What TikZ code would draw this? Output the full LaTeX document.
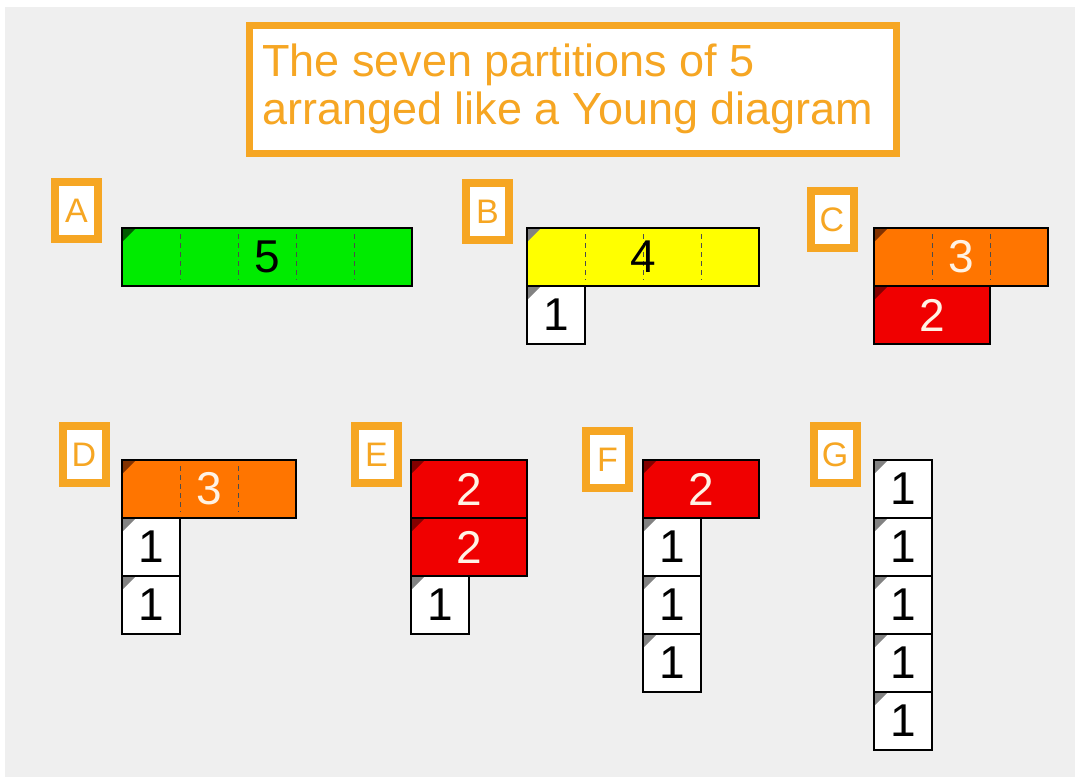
\documentclass[tikz,border=0pt]{standalone}
\usepackage{fontspec}
\setmainfont{Liberation Sans}
\definecolor{boxorange}{RGB}{246,166,35}
\definecolor{bggray}{RGB}{239,239,239}
\definecolor{rodgreen}{RGB}{0,235,0}
\definecolor{rodyellow}{RGB}{255,255,0}
\definecolor{rodorange}{RGB}{255,117,0}
\definecolor{rodred}{RGB}{240,0,0}
\definecolor{cgreen}{RGB}{0,90,0}
\definecolor{cgray}{RGB}{130,130,130}
\definecolor{cbrown}{RGB}{130,50,0}
\definecolor{cdred}{RGB}{130,0,0}
\definecolor{cream}{RGB}{255,242,228}
\newcommand\rodbar[9]{%
  \node[rodbox, fill=#5, minimum width=#4*58, anchor=north west] (#1) at (#2,#3) {};
  \ifnum#4>1
    \foreach \k in {1,...,\numexpr#4-1\relax}{%
      \draw[dashline, draw=#9] ([xshift=\k*58pt, yshift=-6pt]#1.north west) -- ([xshift=\k*58pt, yshift=6pt]#1.south west);
    }
  \fi
  \fill[#6] (#1.north west) -- ++(14,0) -- ++(-14,14) -- cycle;
  \draw[rodline] (#1.north west) rectangle (#1.south east);
  \node[digit, text=#7] (#1n) at (#1.center) {#8};
}
\begin{document}
\begin{tikzpicture}[x=1pt,y=-1pt,
  titlebox/.style={draw=boxorange, line width=7pt, fill=white, minimum width=647, minimum height=128, inner sep=0, outer sep=0},
  titletext/.style={text=boxorange, font=\fontsize{45}{48}\selectfont, inner sep=0},
  labelbox/.style={draw=boxorange, line width=8pt, fill=white, minimum width=43, minimum height=57, inner sep=0, outer sep=0, text=boxorange, font=\fontsize{34}{36}\selectfont},
  rodbox/.style={rectangle, draw=black, line width=1.5pt, minimum height=58, inner sep=0, outer sep=0},
  rodline/.style={draw=black, line width=1.5pt},
  dashline/.style={line width=0.9pt, dash pattern=on 5pt off 4pt},
  digit/.style={font=\fontsize{46}{48}\selectfont, inner sep=0}
]
\useasboundingbox (0,0) rectangle (1079,781);
\fill[white] (0,0) rectangle (1079,781);
\fill[bggray] (5,7) rectangle (1075,777);

\node[titlebox] (title) at (573,89.5) {};
\node[titletext, anchor=base west] (t1) at (262,77) {The seven partitions of 5};
\node[titletext, anchor=base west] (t2) at (262,125) {arranged like a Young diagram};

\node[labelbox] (LA) at (76.5,210.5) {A};
\node[labelbox] (LB) at (487.5,211.5) {B};
\node[labelbox] (LC) at (832,219.5) {C};
\node[labelbox] (LD) at (84,454.5) {D};
\node[labelbox] (LE) at (376.5,454.5) {E};
\node[labelbox] (LF) at (607.5,459.5) {F};
\node[labelbox] (LG) at (835,454.5) {G};

% A
\rodbar{a5}{122}{228}{5}{rodgreen}{cgreen}{black}{5}{black!70}
% B
\rodbar{b4}{527}{228}{4}{rodyellow}{cgray}{black}{4}{black!70}
\rodbar{b1}{527}{286}{1}{white}{cgray}{black}{1}{black}
% C
\rodbar{c3}{874}{228}{3}{rodorange}{cbrown}{cream}{3}{black!70}
\rodbar{c2}{874}{286}{2}{rodred}{cdred}{cream}{2}{rodred}
% D
\rodbar{d3}{122}{460}{3}{rodorange}{cbrown}{cream}{3}{black!70}
\rodbar{d1a}{122}{518}{1}{white}{cgray}{black}{1}{black}
\rodbar{d1b}{122}{576}{1}{white}{cgray}{black}{1}{black}
% E
\rodbar{e2a}{411}{460}{2}{rodred}{cdred}{cream}{2}{rodred}
\rodbar{e2b}{411}{518}{2}{rodred}{cdred}{cream}{2}{rodred}
\rodbar{e1}{411}{576}{1}{white}{cgray}{black}{1}{black}
% F
\rodbar{f2}{643}{460}{2}{rodred}{cdred}{cream}{2}{rodred}
\rodbar{f1a}{643}{518}{1}{white}{cgray}{black}{1}{black}
\rodbar{f1b}{643}{576}{1}{white}{cgray}{black}{1}{black}
\rodbar{f1c}{643}{634}{1}{white}{cgray}{black}{1}{black}
% G
\rodbar{g1a}{874}{460}{1}{white}{cgray}{black}{1}{black}
\rodbar{g1b}{874}{518}{1}{white}{cgray}{black}{1}{black}
\rodbar{g1c}{874}{576}{1}{white}{cgray}{black}{1}{black}
\rodbar{g1d}{874}{634}{1}{white}{cgray}{black}{1}{black}
\rodbar{g1e}{874}{692}{1}{white}{cgray}{black}{1}{black}
\end{tikzpicture}
\end{document}
